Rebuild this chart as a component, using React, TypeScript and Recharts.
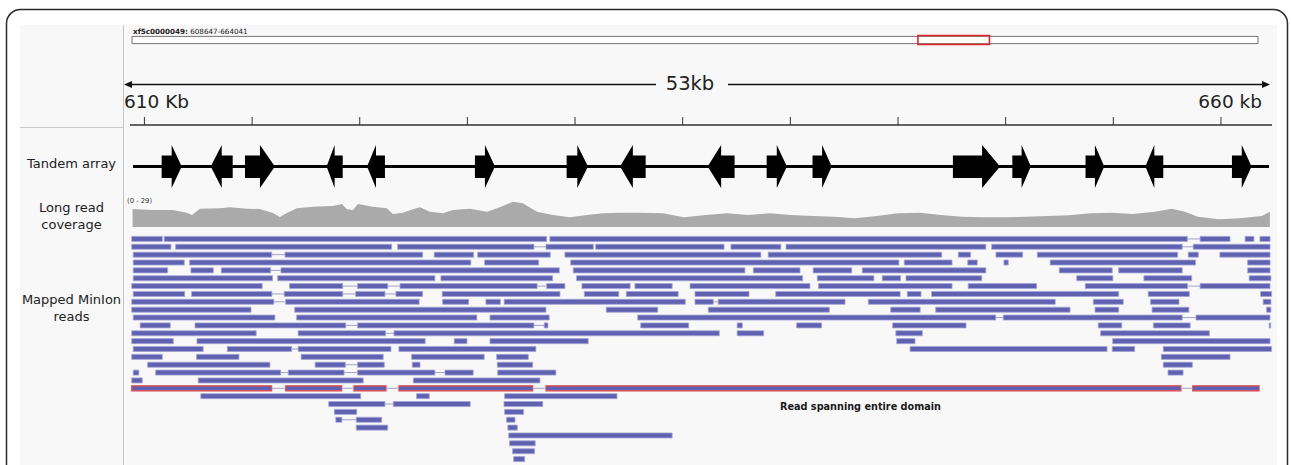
import React from "react";
import {
  ComposedChart,
  AreaChart,
  Area,
  Line,
  XAxis,
  YAxis,
  ReferenceArea,
  ReferenceLine,
} from "recharts";

const W = 1291;
const H = 465;
const PLOT_LEFT = 130;
const PLOT_RIGHT = 1272;

// view window in kb
const viewDomain: [number, number] = [609.33, 662.37];
const rulerTicks = [610, 615, 620, 625, 630, 635, 640, 645, 650, 655, 660];

// chromosome overview (kb)
const chromLength = 872;
const regionStart = 608.647;
const regionEnd = 664.041;

// tandem array genes: [start kb, end kb, strand]
const genes: [number, number, "+" | "-"][] = [
  [610.8, 611.73, "+"],
  [613.08, 614.1, "-"],
  [614.67, 616.06, "+"],
  [618.46, 619.21, "-"],
  [620.34, 621.17, "-"],
  [625.35, 626.28, "+"],
  [629.61, 630.6, "+"],
  [632.09, 633.28, "-"],
  [636.16, 637.41, "-"],
  [638.9, 639.84, "+"],
  [641.03, 641.92, "+"],
  [647.55, 649.74, "+"],
  [650.31, 651.17, "+"],
  [653.71, 654.58, "+"],
  [656.49, 657.32, "-"],
  [660.51, 661.42, "+"],
];
const geneBackbone = [609.47, 662.23];

// long read coverage
const coveragePos = [
  609.45, 610.39, 611.32, 611.97, 612.21, 612.58, 613.51, 613.97, 614.76, 615.36,
  615.97, 616.29, 616.62, 617.08, 617.83, 618.76, 619.17, 619.41, 619.68, 619.92,
  620.61, 621.26, 621.54, 622.01, 622.47, 622.8, 623.26, 623.86, 624.33, 625.12,
  625.91, 626.51, 627.12, 627.58, 628.23, 628.97, 629.76, 630.55, 631.3, 632.09,
  633.06, 634.08, 635.06, 636.08, 637.06, 638.03, 639.05, 640.03, 641.05, 642.02,
  643.0, 644.02, 645.0, 646.02, 646.99, 647.97, 648.99, 649.97, 650.94, 651.96,
  652.94, 653.96, 654.94, 655.91, 656.93, 657.72, 658.32, 658.93, 659.9, 660.88,
  661.9, 662.27,
];
const coverageDepth = [
  18, 17, 17, 14.3, 12, 18.3, 18.7, 19.7, 18.3, 18,
  14, 10, 14, 18.7, 20.3, 21, 23, 17.7, 17, 23,
  20.3, 18.7, 13, 14.3, 17.7, 19.7, 15.3, 13.7, 17, 18.3,
  15.3, 19.7, 25.3, 23.7, 15.3, 12, 9.7, 12, 13.7, 14.3,
  14.3, 13.7, 9.7, 12, 13.7, 12, 13.7, 12, 11, 10.3,
  8.7, 11, 13.7, 14.3, 12, 10.3, 9.7, 9.7, 10.3, 11,
  11.7, 13.7, 14.3, 13, 15.3, 18.3, 15.3, 10.3, 7.7, 8.7,
  11, 15.3,
];
const coverageMax = 29;

// mapped reads: row -> reads -> aligned blocks [start kb, end kb]
const readRows: number[][][][] = [
  [[[609.41, 610.83]], [[610.92, 628.68]], [[628.83, 658.44], [659.03, 660.42]], [[661.12, 661.53]], [[661.81, 662.28]]],
  [[[609.41, 611.23]], [[611.45, 621.48]], [[621.76, 628.09], [628.65, 630.85]], [[630.96, 636.92]], [[637.24, 639.56]], [[639.8, 649.08]], [[649.35, 658.2], [658.71, 662.28]]],
  [[[609.48, 615.91], [616.53, 622.92]], [[623.46, 625.29]], [[625.48, 628.85]], [[629.53, 638.63]], [[638.97, 647.03]], [[647.8, 648.37]], [[649.55, 650.79]], [[651.47, 657.99]], [[658.48, 658.95]], [[659.95, 662.28]]],
  [[[609.48, 611.85]], [[612.1, 625.16]], [[625.8, 628.31]], [[629.8, 645.04]], [[645.29, 647.51]], [[648.24, 648.68]], [[649.92, 650.12]], [[652.07, 658.82]], [[661.24, 662.28]]],
  [[[609.48, 611.08]], [[612.16, 613.2]], [[613.57, 615.86], [616.34, 629.27]], [[629.92, 637.89]], [[638.28, 640.45]], [[641.06, 642.85]], [[643.34, 649.08]], [[652.49, 654.95]], [[655.25, 658.2]], [[661.24, 662.28]]],
  [[[609.48, 615.95]], [[616.19, 623.49]], [[623.77, 628.96]], [[630.07, 640.57]], [[641.25, 643.88]], [[644.27, 645.12]], [[645.37, 648.89]], [[653.3, 654.98]], [[656.42, 658.64]], [[661.31, 662.32]]],
  [[[609.41, 615.47]], [[616.74, 619.21], [619.9, 621.3], [621.87, 628.24], [628.68, 629.53]], [[630.32, 632.56]], [[632.78, 634.51]], [[635.34, 640.91]], [[641.31, 647.51]], [[648.26, 651.44]], [[653.7, 658.45], [659.03, 662.28]]],
  [[[609.48, 611.87]], [[612.19, 615.92], [616.49, 619.21], [619.81, 621.17], [621.68, 622.92]], [[623.83, 629.3]], [[630.43, 632.03]], [[632.38, 634.79]], [[635.57, 638.08]], [[639.32, 645.1]], [[645.43, 646.07]], [[646.56, 655.25]], [[656.62, 658.53]], [[661.84, 662.35]]],
  [[[609.41, 616.01], [616.56, 622.76]], [[623.85, 625.06]], [[625.86, 626.53]], [[626.71, 635.12]], [[635.57, 636.42], [636.65, 642.54]], [[643.62, 652.3]], [[654.07, 655.46]], [[656.73, 658.05]], [[661.96, 662.32]]],
  [[[609.41, 614.95]], [[616.98, 628.65]], [[631.45, 633.84]], [[636.19, 641.81]], [[644.66, 646.03]], [[646.75, 652.99]], [[654.15, 655.25]], [[656.8, 658.51]], [[662.12, 662.32]]],
  [[[609.48, 616.06]], [[617.07, 625.44]], [[626.05, 628.8]], [[632.91, 649.54], [649.89, 658.2], [658.84, 662.28]]],
  [[[609.8, 611.2]], [[612.35, 619.35], [619.9, 628.09], [628.57, 628.74]], [[633.05, 635.28]], [[637.53, 637.77]], [[640.29, 641.45]], [[644.75, 648.16]], [[654.3, 655.39]], [[656.86, 658.57]], [[662.24, 662.31]]],
  [[[609.41, 615.19]], [[617.14, 621.2], [621.59, 636.7]], [[637.53, 638.76]], [[644.9, 646.13]], [[654.41, 659.46]]],
  [[[609.41, 611.34]], [[612.44, 623.04]], [[624.39, 624.98]], [[626.05, 630.61]], [[644.94, 645.79]], [[654.97, 662.28]]],
  [[[609.48, 612.73]], [[613.85, 616.84], [617.14, 621.45]], [[621.82, 628.18]], [[645.56, 654.71]], [[654.95, 655.99]], [[657.32, 662.35]]],
  [[[609.41, 610.83]], [[612.42, 614.39]], [[617.28, 621.09]], [[622.41, 625.78]], [[626.36, 627.83]], [[657.23, 660.42]]],
  [[[610.15, 615.83]], [[617.93, 619.33], [619.9, 621.14]], [[622.44, 622.8]], [[626.39, 628.03]], [[657.32, 658.67]]],
  [[[609.48, 609.74]], [[610.52, 616.33], [616.68, 619.27], [619.9, 623.49], [623.96, 625.27]], [[626.41, 629.11]], [[657.54, 658.24]]],
  [[[609.41, 609.9]], [[612.5, 620.16]], [[622.49, 628.37]]],
  [[[609.41, 615.91], [616.56, 619.16], [619.73, 621.22], [621.82, 628.03], [628.65, 658.14], [658.69, 661.77]]],
  [[[612.62, 620.04]], [[622.64, 623.23]], [[626.73, 631.95]]],
  [[[618.56, 621.17], [621.56, 625.13]], [[626.7, 628.5]]],
  [[[618.82, 619.86]], [[626.73, 627.61]]],
  [[[618.89, 619.17], [619.84, 621.02]], [[626.82, 627.21]]],
  [[[619.84, 621.3]], [[626.88, 627.32]]],
  [[[626.92, 634.51]]],
  [[[626.96, 628.15]]],
  [[[627.1, 628.12]]],
  [[[627.15, 627.66]]],
];
const highlightRow = 19;

const coverageData = coveragePos.map((pos, i) => ({ pos, depth: coverageDepth[i] }));
const backboneData = geneBackbone.map((x) => ({ x, y: 0.5 }));
const rulerData = rulerTicks.map((x) => ({ x, y: 0 }));
const viewEnds = viewDomain.map((x) => ({ x, y: 0 }));
const chromEnds = [0, chromLength].map((x) => ({ x, y: 0.5 }));

const readBlocks = readRows.flatMap((reads, row) =>
  reads.flatMap((read) => read.map(([s, e]) => ({ row, s, e })))
);
const readLinks = readRows.flatMap((reads, row) =>
  reads.flatMap((read) => read.slice(1).map((b, i) => ({ row, s: read[i][1], e: b[0] })))
);

const trackMargin = { top: 0, bottom: 0, left: PLOT_LEFT, right: W - PLOT_RIGHT };
const READ_FILL = "#6161b1";
const READ_EDGE = "#a4a4d6";

function GeneArrow(props: any) {
  const { x, y, width, height, strand } = props;
  const head = Math.min(width / 2, 18);
  const bt = y + height * 0.245;
  const bb = y + height * 0.765;
  const mid = y + height / 2;
  let pts: number[][];
  if (strand === "+") {
    const hx = x + width - head;
    pts = [[x, bt], [hx, bt], [hx, y], [x + width, mid], [hx, y + height], [hx, bb], [x, bb]];
  } else {
    const hx = x + head;
    pts = [[x + width, bt], [hx, bt], [hx, y], [x, mid], [hx, y + height], [hx, bb], [x + width, bb]];
  }
  return <polygon points={pts.map((p) => p.join(",")).join(" ")} fill="#000" />;
}

// ruler ticks carry no label (edge labels are drawn separately)
function NoLabel() {
  return <g />;
}

const labelStyle: React.CSSProperties = {
  position: "absolute",
  left: 20,
  width: 103,
  textAlign: "center",
  fontSize: 13,
  lineHeight: "17px",
  color: "#222",
};

export default function App() {
  return (
    <div
      style={{
        position: "absolute",
        left: 0,
        top: 0,
        width: W,
        height: H,
        overflow: "hidden",
        background: "#fff",
        fontFamily: '"DejaVu Sans", sans-serif',
      }}
    >
      <svg width={W} height={H} style={{ position: "absolute", left: 0, top: 0 }}>
        <rect x={6.5} y={9.5} width={1281} height={490} rx={14} fill="#fff" stroke="#2a2a2a" strokeWidth={1.5} />
        <rect x={20} y={25} width={1257} height={445} fill="#f8f8f8" />
        <line x1={123.5} y1={25} x2={123.5} y2={H} stroke="#c4c4c4" />
        <line x1={20} y1={127.5} x2={123} y2={127.5} stroke="#c8c8c8" />

        <text x={133} y={33.5} fontSize={7.2} fill="#222">
          <tspan fontWeight="bold">xf5c0000049:</tspan> 608647-664041
        </text>

        <line x1={128} y1={84.5} x2={656} y2={84.5} stroke="#111" strokeWidth={1.5} />
        <line x1={728} y1={84.5} x2={1266} y2={84.5} stroke="#111" strokeWidth={1.5} />
        <polygon points="124,84.5 132,81 132,88" fill="#111" />
        <polygon points="1270,84.5 1262,81 1262,88" fill="#111" />
        <text x={690} y={90} fontSize={19.5} textAnchor="middle" fill="#222">53kb</text>
        <text x={124} y={107.5} fontSize={18.5} fill="#222">610 Kb</text>
        <text x={1262} y={107.5} fontSize={18.5} textAnchor="end" fill="#222">660 kb</text>

        <text x={127} y={202.5} fontSize={6.8} fill="#333">(0 - 29)</text>
        <text x={780} y={410} fontSize={9.7} fontWeight="bold" fill="#1a1a1a">
          Read spanning entire domain
        </text>
      </svg>

      <div style={{ ...labelStyle, top: 155 }}>Tandem array</div>
      <div style={{ ...labelStyle, top: 199 }}>Long read<br />coverage</div>
      <div style={{ ...labelStyle, top: 291 }}>Mapped MinIon<br />reads</div>

      {/* chromosome overview */}
      <div style={{ position: "absolute", left: 0, top: 34 }}>
        <ComposedChart width={W} height={12} margin={{ top: 0, bottom: 0, left: 132, right: W - 1258 }} data={chromEnds}>
          <XAxis type="number" dataKey="x" hide domain={[0, chromLength]} allowDataOverflow />
          <YAxis type="number" hide domain={[0, 1]} allowDataOverflow />
          <Line dataKey="y" stroke="none" dot={false} activeDot={false} isAnimationActive={false} />
          <ReferenceArea x1={0} x2={chromLength} y1={0.2} y2={0.8} fill="#fff" fillOpacity={1} stroke="#777" strokeWidth={1} ifOverflow="visible" />
          <ReferenceArea x1={regionStart} x2={regionEnd} y1={0.13} y2={0.87} fill="none" fillOpacity={0} stroke="#e3262b" strokeWidth={1.6} ifOverflow="visible" />
        </ComposedChart>
      </div>

      {/* ruler */}
      <div style={{ position: "absolute", left: 0, top: 100 }}>
        <ComposedChart width={W} height={30} margin={trackMargin} data={rulerData}>
          <XAxis
            type="number"
            dataKey="x"
            orientation="top"
            domain={viewDomain}
            allowDataOverflow
            ticks={rulerTicks}
            interval={0}
            height={25}
            tickSize={8}
            tick={<NoLabel />}
            axisLine={{ stroke: "#333", strokeWidth: 1.5 }}
            tickLine={{ stroke: "#333", strokeWidth: 1 }}
          />
          <YAxis type="number" hide domain={[0, 1]} />
          <Line dataKey="y" stroke="none" dot={false} activeDot={false} isAnimationActive={false} />
        </ComposedChart>
      </div>

      {/* tandem array */}
      <div style={{ position: "absolute", left: 0, top: 145 }}>
        <ComposedChart width={W} height={43} margin={trackMargin} data={backboneData}>
          <XAxis type="number" dataKey="x" hide domain={viewDomain} allowDataOverflow />
          <YAxis type="number" hide domain={[0, 1]} allowDataOverflow />
          <Line dataKey="y" stroke="#000" strokeWidth={3} dot={false} activeDot={false} isAnimationActive={false} />
          {genes.map((g, i) => (
            <ReferenceArea
              key={i}
              x1={g[0]}
              x2={g[1]}
              y1={0}
              y2={1}
              ifOverflow="visible"
              shape={(p: any) => <GeneArrow {...p} strand={g[2]} />}
            />
          ))}
        </ComposedChart>
      </div>

      {/* coverage */}
      <div style={{ position: "absolute", left: 0, top: 198 }}>
        <AreaChart width={W} height={29} margin={trackMargin} data={coverageData}>
          <XAxis type="number" dataKey="pos" hide domain={viewDomain} allowDataOverflow />
          <YAxis type="number" hide domain={[0, coverageMax]} allowDataOverflow />
          <Area
            type="linear"
            dataKey="depth"
            stroke="none"
            fill="#aaaaaa"
            fillOpacity={1}
            isAnimationActive={false}
            activeDot={false}
          />
        </AreaChart>
      </div>

      {/* reads */}
      <div style={{ position: "absolute", left: 0, top: 235 }}>
        <ComposedChart width={W} height={228} margin={trackMargin} data={viewEnds}>
          <XAxis type="number" dataKey="x" hide domain={viewDomain} allowDataOverflow />
          <YAxis type="number" hide domain={[-0.5, readRows.length - 0.5]} reversed allowDataOverflow />
          <Line dataKey="y" stroke="none" dot={false} activeDot={false} isAnimationActive={false} />
          {readLinks.map((l, i) => (
            <ReferenceLine
              key={"l" + i}
              segment={[{ x: l.s, y: l.row }, { x: l.e, y: l.row }]}
              stroke="#a2a2cc"
              strokeWidth={1}
              ifOverflow="visible"
            />
          ))}
          {readBlocks.map((b, i) => (
            <ReferenceArea
              key={"b" + i}
              x1={b.s}
              x2={b.e}
              y1={b.row - 0.32}
              y2={b.row + 0.32}
              fill={READ_FILL}
              fillOpacity={1}
              stroke={b.row === highlightRow ? "#e8454a" : READ_EDGE}
              strokeWidth={b.row === highlightRow ? 1.2 : 0.8}
              ifOverflow="visible"
            />
          ))}
        </ComposedChart>
      </div>
    </div>
  );
}
